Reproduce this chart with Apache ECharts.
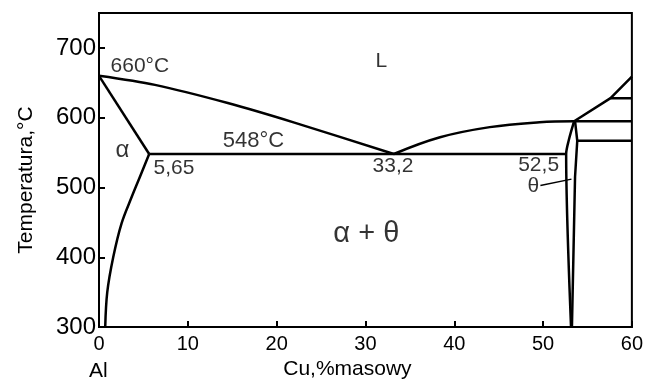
<!DOCTYPE html>
<html>
<head>
<meta charset="utf-8">
<script src="https://cdn.jsdelivr.net/npm/echarts@6/dist/echarts.min.js"></script>
<style>
html,body{margin:0;padding:0;background:#fff;}
#chart{width:646px;height:385px;}
</style>
</head>
<body>
<div id="chart"></div>
<script>
// ---- data (Cu wt%, temperature °C) ----
const xTicks = [0, 10, 20, 30, 40, 50, 60];
const yTicks = [300, 400, 500, 600, 700];
const liquidusLeft = [[0, 660], [6.3, 647], [14.5, 621], [22.0, 593], [33.2, 548]];
const liquidusRightCurve = [[33.2, 548], [38.4, 572], [44.0, 586.5], [49.6, 593.5], [53.5, 595]];
const liquidusRightUpper = [[53.5, 595], [57.6, 628], [60, 659]];
const solidus = [[0, 660], [5.65, 548]];
const eutectic = [[5.65, 548], [52.5, 548]];
const solvus = [[5.65, 548], [4.6, 515], [3.7, 487], [2.55, 449], [1.6, 400], [0.93, 350], [0.7, 300]];
const thetaLeft = [[53.5, 595], [52.9, 568], [52.6, 548], [53.15, 300]];
const thetaRight = [[53.6, 595], [53.85, 567], [53.6, 515], [53.25, 300]];
const iso628 = [[57.6, 628], [60, 628]];
const iso595 = [[53.5, 595], [60, 595]];
const iso567 = [[53.85, 567], [60, 567]];
const thetaLeader = [[49.7, 503], [53.2, 512]];
// annotations
const labelX = [4.6, 31.8, 2.64, 17.4, 8.44, 33.1, 49.5, 48.9, 30.1];
const labelT = [674, 681.6, 553.7, 566.7, 528.3, 531.1, 532.5, 501.4, 433.6];
const labelText = ['660°C', 'L', 'α', '548°C', '5,65', '33,2', '52,5', 'θ', 'α + θ'];
const labelSize = [21, 21, 24, 22, 21, 21, 21, 21, 29];

const FONT = "'Liberation Sans', Arial, sans-serif";
const chart = echarts.init(document.getElementById('chart'), null, {renderer: 'canvas'});

function line(data, smooth) {
  return {
    type: 'line', data: data, smooth: smooth || false, symbol: 'none',
    lineStyle: {color: '#000', width: 2.5}, silent: true, animation: false, z: 3
  };
}

const annotations = labelText.map((t, i) => ({
  value: [labelX[i], labelT[i]],
  label: {
    show: true, formatter: t, position: 'inside', color: '#000',
    textBorderWidth: 0, fontSize: labelSize[i], fontFamily: FONT
  }
}));

const option = {
  backgroundColor: '#fff',
  animation: false,
  grid: {left: 99, right: 14, top: 13, bottom: 53, show: true, borderColor: '#000', borderWidth: 2, backgroundColor: 'transparent'},
  xAxis: {
    type: 'value', min: xTicks[0], max: xTicks[xTicks.length - 1], interval: 10,
    name: 'Cu,%masowy', nameLocation: 'middle', nameGap: 31,
    nameTextStyle: {color: '#000', fontSize: 21, fontFamily: FONT, padding: [0, 36, 0, 0]},
    axisLine: {lineStyle: {color: '#000', width: 2}},
    axisTick: {inside: true, length: 6, lineStyle: {color: '#000', width: 2}},
    axisLabel: {color: '#000', fontSize: 20, fontFamily: FONT, margin: 7},
    splitLine: {show: false}
  },
  yAxis: {
    type: 'value', min: yTicks[0], max: 750, interval: 100,
    name: 'Temperatura,°C', nameLocation: 'middle', nameGap: 62, nameRotate: 90,
    nameTextStyle: {color: '#000', fontSize: 21, fontFamily: FONT, padding: [0, 20, 0, 0]},
    axisLine: {lineStyle: {color: '#000', width: 2}},
    axisTick: {inside: true, length: 6, lineStyle: {color: '#000', width: 2}},
    axisLabel: {color: '#000', fontSize: 24, fontFamily: FONT, margin: 3, showMaxLabel: false,
      formatter: v => (yTicks.indexOf(v) >= 0 ? String(v) : '')},
    splitLine: {show: false}
  },
  graphic: [{
    type: 'text', left: 89, top: 361,
    style: {text: 'Al', fill: '#000', font: '21px ' + FONT}
  }],
  series: [
    line(liquidusLeft, 0.3),
    line(liquidusRightCurve, 0.4),
    line(liquidusRightUpper),
    line(solidus),
    line(eutectic),
    line(solvus, 0.35),
    line(thetaLeft, 0.3),
    line(thetaRight),
    line(iso628),
    line(iso595),
    line(iso567),
    Object.assign(line(thetaLeader), {lineStyle: {color: '#000', width: 1.5}}),
    {
      type: 'scatter', data: annotations, symbolSize: 1,
      itemStyle: {color: 'rgba(0,0,0,0)'},
      silent: true, animation: false, z: 5
    }
  ]
};
chart.setOption(option);
</script>
</body>
</html>
